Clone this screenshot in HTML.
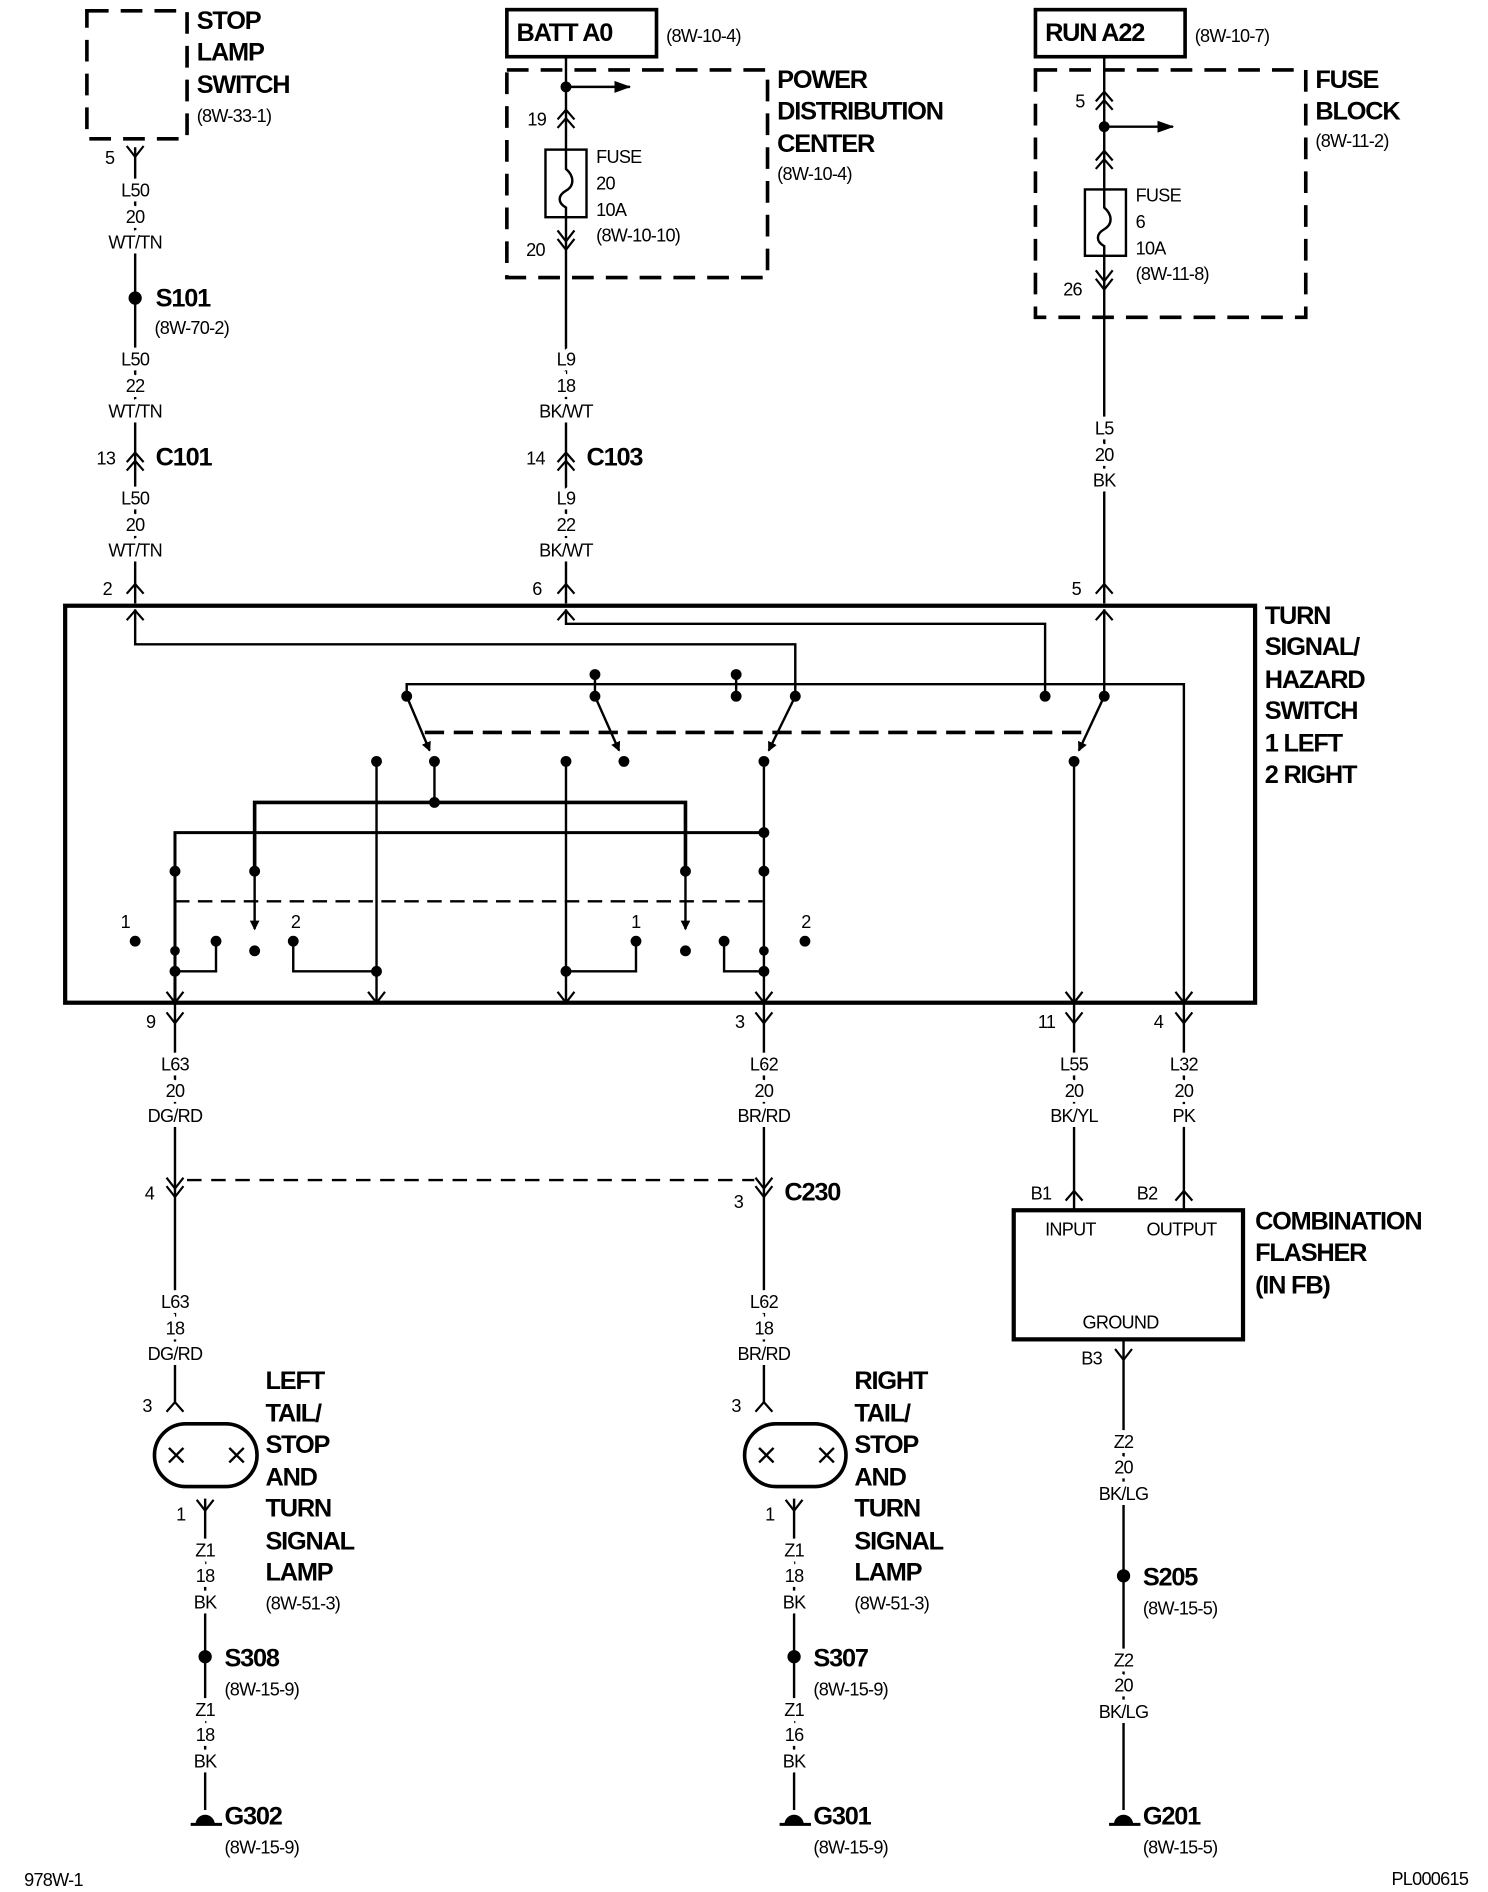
<!DOCTYPE html>
<html><head><meta charset="utf-8"><style>
html,body{margin:0;padding:0;background:#fff;overflow:hidden;}
svg{display:block}
text{font-family:"Liberation Sans",sans-serif;fill:#000;}
.b{font-weight:bold;font-size:21px;letter-spacing:-1px;}
.s{font-size:15px;letter-spacing:-0.6px;}
.w{font-size:15px;letter-spacing:-0.6px;text-anchor:middle;}
.wb{font-size:15px;letter-spacing:-0.6px;text-anchor:middle;paint-order:stroke;stroke:#fff;stroke-width:8px;}
</style></head><body>
<svg width="1488" height="1892" viewBox="0 0 1233 1568" preserveAspectRatio="none" xmlns="http://www.w3.org/2000/svg">
<defs>
<path id="Y" d="M-7,-9 L0,0 L7,-9" fill="none" stroke="#000" stroke-width="1.8"/>
<path id="A" d="M-7,8 L0,0 L7,8" fill="none" stroke="#000" stroke-width="1.8"/>
<g id="AA"><use href="#A"/><use href="#A" y="7"/></g>
<g id="YY"><use href="#Y"/><use href="#Y" y="7"/></g>
<marker id="ar" markerWidth="8" markerHeight="8" refX="7" refY="4" orient="auto" markerUnits="userSpaceOnUse"><path d="M0,0 L8,4 L0,8 z" fill="#000"/></marker>
<marker id="ar2" markerWidth="14" markerHeight="10" refX="13" refY="5" orient="auto" markerUnits="userSpaceOnUse"><path d="M0,0 L14,5 L0,10 z" fill="#000"/></marker>
</defs>
<g fill="none" stroke="#000" stroke-width="2">
<rect x="72" y="9" width="83" height="106" stroke-width="3" stroke-dasharray="18,10"/>
<line x1="112" y1="122" x2="112" y2="500"/>
<rect x="420" y="8" width="124" height="39" stroke-width="3"/>
<rect x="420" y="58" width="216" height="172" stroke-width="3" stroke-dasharray="18,10"/>
<line x1="469" y1="47" x2="469" y2="500"/>
<line x1="469" y1="72" x2="522" y2="72" marker-end="url(#ar2)"/>
<rect x="452" y="124" width="34" height="56" fill="#fff"/>
<path d="M469,124 V140 C476,146 476,154 469,158 C462,162 462,168 469,172 V180"/>
<rect x="858" y="8" width="124" height="39" stroke-width="3"/>
<rect x="858" y="58" width="224" height="205" stroke-width="3" stroke-dasharray="18,10"/>
<line x1="915" y1="47" x2="915" y2="500"/>
<line x1="915" y1="105" x2="972" y2="105" marker-end="url(#ar2)"/>
<rect x="899" y="157" width="34" height="55" fill="#fff"/>
<path d="M915,157 V172 C922,178 922,186 915,190 C908,194 908,200 915,204 V212"/>
<rect x="54" y="502" width="986" height="329" stroke-width="3.5"/>
<path d="M112,505 V534 H659 V577"/>
<path d="M469,505 V517 H866 V577"/>
<path d="M915,505 V577"/>
<path d="M337,577 V567 H981 V831"/>
<path d="M493,559 V577 M610,559 V577"/>
<line x1="337" y1="577" x2="356" y2="622" marker-end="url(#ar)"/>
<line x1="493" y1="577" x2="513" y2="622" marker-end="url(#ar)"/>
<line x1="659" y1="577" x2="637" y2="622" marker-end="url(#ar)"/>
<line x1="915" y1="577" x2="894" y2="622" marker-end="url(#ar)"/>
<line x1="352" y1="607" x2="897" y2="607" stroke-width="3" stroke-dasharray="16,8"/>
<path d="M360,630 V665"/>
<path d="M211,720 V665 H568 V720" stroke-width="3"/>
<path d="M633,630 V831"/>
<path d="M145,831 V690 H633" stroke-width="2.5"/>
<line x1="145" y1="747" x2="633" y2="747" stroke-dasharray="12,7"/>
<path d="M211,720 V770" marker-end="url(#ar)"/>
<path d="M568,720 V770" marker-end="url(#ar)"/>
<path d="M145,805 H179 V780"/>
<path d="M633,805 H600 V780"/>
<path d="M243,780 V805 H312"/>
<path d="M312,631 V831"/>
<path d="M469,631 V831"/>
<path d="M469,805 H527 V780"/>
<path d="M890,630 V831"/>
<line x1="145" y1="831" x2="145" y2="1163"/>
<line x1="633" y1="831" x2="633" y2="1163"/>
<line x1="890" y1="831" x2="890" y2="1003"/>
<line x1="981" y1="831" x2="981" y2="1003"/>
<line x1="155" y1="978" x2="625" y2="978" stroke-dasharray="12,8"/>
<rect x="840" y="1003" width="190" height="107" stroke-width="3.5"/>
<line x1="931" y1="1110" x2="931" y2="1500"/>
<rect x="128" y="1180" width="85" height="52" rx="26" stroke-width="3"/>
<rect x="617" y="1180" width="84" height="52" rx="26" stroke-width="3"/>
<path d="M140,1200 l12,12 M152,1200 l-12,12 M190,1200 l12,12 M202,1200 l-12,12"/>
<path d="M629,1200 l12,12 M641,1200 l-12,12 M679,1200 l12,12 M691,1200 l-12,12"/>
<line x1="170" y1="1242" x2="170" y2="1500"/>
<line x1="658" y1="1242" x2="658" y2="1500"/>
<path d="M158,1512 H184 M646,1512 H672 M919,1512 H945" stroke-width="2.5"/>
</g>
<g fill="#000">
<circle cx="112" cy="247" r="5.5"/><circle cx="469" cy="72" r="4.5"/><circle cx="915" cy="105" r="4.5"/>
<circle cx="170" cy="1373" r="5.5"/><circle cx="658" cy="1373" r="5.5"/><circle cx="931" cy="1306" r="5.5"/>
<path d="M162,1512 a8,8 0 0 1 16,0 z M650,1512 a8,8 0 0 1 16,0 z M923,1512 a8,8 0 0 1 16,0 z"/>
<circle cx="337" cy="577" r="4.5"/><circle cx="493" cy="559" r="4.5"/><circle cx="493" cy="577" r="4.5"/>
<circle cx="610" cy="559" r="4.5"/><circle cx="610" cy="577" r="4.5"/><circle cx="659" cy="577" r="4.5"/>
<circle cx="866" cy="577" r="4.5"/><circle cx="915" cy="577" r="4.5"/>
<circle cx="360" cy="631" r="4.5"/><circle cx="517" cy="631" r="4.5"/><circle cx="633" cy="631" r="4.5"/><circle cx="890" cy="631" r="4.5"/>
<circle cx="312" cy="631" r="4.5"/><circle cx="469" cy="631" r="4.5"/>
<circle cx="360" cy="665" r="4.5"/><circle cx="633" cy="690" r="4.5"/>
<circle cx="145" cy="722" r="4.5"/><circle cx="211" cy="722" r="4.5"/><circle cx="568" cy="722" r="4.5"/><circle cx="633" cy="722" r="4.5"/>
<circle cx="112" cy="780" r="4.5"/><circle cx="179" cy="780" r="4.5"/><circle cx="211" cy="788" r="4.5"/><circle cx="243" cy="780" r="4.5"/>
<circle cx="527" cy="780" r="4.5"/><circle cx="568" cy="788" r="4.5"/><circle cx="600" cy="780" r="4.5"/><circle cx="667" cy="780" r="4.5"/>
<circle cx="145" cy="805" r="4.5"/><circle cx="312" cy="805" r="4.5"/><circle cx="469" cy="805" r="4.5"/><circle cx="633" cy="805" r="4.5"/>
<circle cx="145" cy="788" r="4"/><circle cx="633" cy="788" r="4"/>
</g>
<use href="#Y" x="112" y="130"/>
<use href="#AA" x="112" y="375"/>
<use href="#A" x="112" y="484"/><use href="#A" x="112" y="506"/>
<use href="#AA" x="469" y="91"/><use href="#YY" x="469" y="200"/>
<use href="#AA" x="469" y="375"/>
<use href="#A" x="469" y="484"/><use href="#A" x="469" y="506"/>
<use href="#AA" x="915" y="76"/><use href="#AA" x="915" y="125"/><use href="#YY" x="915" y="233"/>
<use href="#A" x="915" y="484"/><use href="#A" x="915" y="506"/>
<use href="#Y" x="145" y="831"/><use href="#Y" x="312" y="831"/><use href="#Y" x="469" y="831"/><use href="#Y" x="633" y="831"/><use href="#Y" x="890" y="831"/><use href="#Y" x="981" y="831"/>
<use href="#Y" x="145" y="848"/><use href="#Y" x="633" y="848"/><use href="#Y" x="890" y="848"/><use href="#Y" x="981" y="848"/>
<use href="#YY" x="145" y="985"/><use href="#YY" x="633" y="985"/>
<use href="#A" x="145" y="1162"/><use href="#A" x="633" y="1162"/>
<use href="#Y" x="170" y="1252"/><use href="#Y" x="658" y="1252"/>
<use href="#A" x="890" y="987"/><use href="#A" x="981" y="987"/>
<use href="#Y" x="931" y="1127"/>
<text class="b" x="163" y="24">STOP</text><text class="b" x="163" y="50">LAMP</text><text class="b" x="163" y="77">SWITCH</text>
<text class="s" x="163" y="101">(8W-33-1)</text>
<text class="s" x="87" y="136">5</text>
<text class="wb" x="112" y="163">L50</text><text class="wb" x="112" y="185">20</text><text class="wb" x="112" y="206">WT/TN</text>
<text class="b" x="129" y="254">S101</text><text class="s" x="128" y="277">(8W-70-2)</text>
<text class="wb" x="112" y="303">L50</text><text class="wb" x="112" y="325">22</text><text class="wb" x="112" y="346">WT/TN</text>
<text class="s" x="80" y="385">13</text><text class="b" x="129" y="386">C101</text>
<text class="wb" x="112" y="418">L50</text><text class="wb" x="112" y="440">20</text><text class="wb" x="112" y="461">WT/TN</text>
<text class="s" x="85" y="493">2</text>
<text class="b" x="428" y="34">BATT A0</text><text class="s" x="552" y="35">(8W-10-4)</text>
<text class="b" x="644" y="73">POWER</text><text class="b" x="644" y="99">DISTRIBUTION</text><text class="b" x="644" y="126">CENTER</text>
<text class="s" x="644" y="149">(8W-10-4)</text>
<text class="s" x="437" y="104">19</text>
<text class="s" x="494" y="135">FUSE</text><text class="s" x="494" y="157">20</text><text class="s" x="494" y="179">10A</text><text class="s" x="494" y="200">(8W-10-10)</text>
<text class="s" x="436" y="212">20</text>
<text class="wb" x="469" y="303">L9</text><text class="wb" x="469" y="325">18</text><text class="wb" x="469" y="346">BK/WT</text>
<text class="s" x="436" y="385">14</text><text class="b" x="486" y="386">C103</text>
<text class="wb" x="469" y="418">L9</text><text class="wb" x="469" y="440">22</text><text class="wb" x="469" y="461">BK/WT</text>
<text class="s" x="441" y="493">6</text>
<text class="b" x="866" y="34">RUN A22</text><text class="s" x="990" y="35">(8W-10-7)</text>
<text class="b" x="1090" y="73">FUSE</text><text class="b" x="1090" y="99">BLOCK</text><text class="s" x="1090" y="122">(8W-11-2)</text>
<text class="s" x="891" y="89">5</text>
<text class="s" x="941" y="167">FUSE</text><text class="s" x="941" y="189">6</text><text class="s" x="941" y="211">10A</text><text class="s" x="941" y="232">(8W-11-8)</text>
<text class="s" x="881" y="245">26</text>
<text class="wb" x="915" y="360">L5</text><text class="wb" x="915" y="382">20</text><text class="wb" x="915" y="403">BK</text>
<text class="s" x="888" y="493">5</text>
<text class="b" x="1048" y="517">TURN</text><text class="b" x="1048" y="543">SIGNAL/</text><text class="b" x="1048" y="570">HAZARD</text>
<text class="b" x="1048" y="596">SWITCH</text><text class="b" x="1048" y="623">1 LEFT</text><text class="b" x="1048" y="649">2 RIGHT</text>
<text class="s" x="100" y="769">1</text><text class="s" x="241" y="769">2</text><text class="s" x="523" y="769">1</text><text class="s" x="664" y="769">2</text>
<text class="s" x="121" y="852">9</text><text class="s" x="609" y="852">3</text><text class="s" x="860" y="852">11</text><text class="s" x="956" y="852">4</text>
<text class="wb" x="145" y="887">L63</text><text class="wb" x="145" y="909">20</text><text class="wb" x="145" y="930">DG/RD</text>
<text class="wb" x="633" y="887">L62</text><text class="wb" x="633" y="909">20</text><text class="wb" x="633" y="930">BR/RD</text>
<text class="wb" x="890" y="887">L55</text><text class="wb" x="890" y="909">20</text><text class="wb" x="890" y="930">BK/YL</text>
<text class="wb" x="981" y="887">L32</text><text class="wb" x="981" y="909">20</text><text class="wb" x="981" y="930">PK</text>
<text class="s" x="120" y="994">4</text><text class="s" x="608" y="1001">3</text><text class="b" x="650" y="995">C230</text>
<text class="wb" x="145" y="1084">L63</text><text class="wb" x="145" y="1106">18</text><text class="wb" x="145" y="1127">DG/RD</text>
<text class="wb" x="633" y="1084">L62</text><text class="wb" x="633" y="1106">18</text><text class="wb" x="633" y="1127">BR/RD</text>
<text class="s" x="118" y="1170">3</text><text class="s" x="606" y="1170">3</text>
<text class="s" x="146" y="1260">1</text><text class="s" x="634" y="1260">1</text>
<g class="b">
<text x="220" y="1151">LEFT</text><text x="220" y="1178">TAIL/</text><text x="220" y="1204">STOP</text><text x="220" y="1231">AND</text><text x="220" y="1257">TURN</text><text x="220" y="1284">SIGNAL</text><text x="220" y="1310">LAMP</text>
<text x="708" y="1151">RIGHT</text><text x="708" y="1178">TAIL/</text><text x="708" y="1204">STOP</text><text x="708" y="1231">AND</text><text x="708" y="1257">TURN</text><text x="708" y="1284">SIGNAL</text><text x="708" y="1310">LAMP</text>
</g>
<text class="s" x="220" y="1334">(8W-51-3)</text><text class="s" x="708" y="1334">(8W-51-3)</text>
<text class="wb" x="170" y="1290">Z1</text><text class="wb" x="170" y="1311">18</text><text class="wb" x="170" y="1333">BK</text>
<text class="wb" x="658" y="1290">Z1</text><text class="wb" x="658" y="1311">18</text><text class="wb" x="658" y="1333">BK</text>
<text class="b" x="186" y="1381">S308</text><text class="s" x="186" y="1405">(8W-15-9)</text>
<text class="b" x="674" y="1381">S307</text><text class="s" x="674" y="1405">(8W-15-9)</text>
<text class="wb" x="170" y="1422">Z1</text><text class="wb" x="170" y="1443">18</text><text class="wb" x="170" y="1465">BK</text>
<text class="wb" x="658" y="1422">Z1</text><text class="wb" x="658" y="1443">16</text><text class="wb" x="658" y="1465">BK</text>
<text class="b" x="186" y="1512">G302</text><text class="s" x="186" y="1536">(8W-15-9)</text>
<text class="b" x="674" y="1512">G301</text><text class="s" x="674" y="1536">(8W-15-9)</text>
<text class="s" x="854" y="994">B1</text><text class="s" x="942" y="994">B2</text>
<text class="s" x="866" y="1024">INPUT</text><text class="s" x="950" y="1024">OUTPUT</text><text class="s" x="897" y="1101">GROUND</text>
<text class="b" x="1040" y="1019">COMBINATION</text><text class="b" x="1040" y="1045">FLASHER</text><text class="b" x="1040" y="1072">(IN FB)</text>
<text class="s" x="896" y="1131">B3</text>
<text class="wb" x="931" y="1200">Z2</text><text class="wb" x="931" y="1221">20</text><text class="wb" x="931" y="1243">BK/LG</text>
<text class="b" x="947" y="1314">S205</text><text class="s" x="947" y="1338">(8W-15-5)</text>
<text class="wb" x="931" y="1381">Z2</text><text class="wb" x="931" y="1402">20</text><text class="wb" x="931" y="1424">BK/LG</text>
<text class="b" x="947" y="1512">G201</text><text class="s" x="947" y="1536">(8W-15-5)</text>
<text class="s" x="20" y="1563">978W-1</text><text class="s" x="1153" y="1562">PL000615</text>
</svg>
</body></html>
